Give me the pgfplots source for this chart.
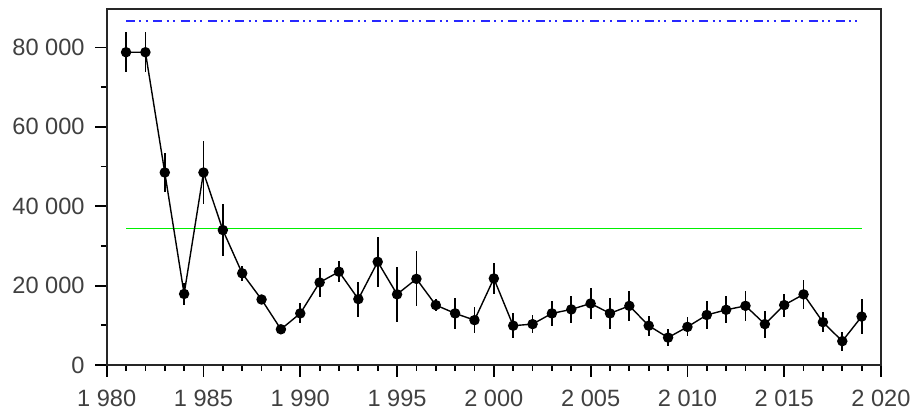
\documentclass[border=0pt]{standalone}
\usepackage{fontspec}
\setmainfont{Liberation Sans}
\usepackage{pgfplots}
\usepackage{pgfplotstable}
\pgfplotsset{compat=1.18}
\definecolor{refblue}{RGB}{40,40,255}
\definecolor{refgreen}{RGB}{0,240,0}
\pgfplotstableread{
year val err
1981 78800 5000
1982 78800 5000
1983 48500 5000
1984 17900 2800
1985 48500 8000
1986 34000 6500
1987 23100 1900
1988 16500 1000
1989 9000 800
1990 13000 2500
1991 20800 3700
1992 23500 2700
1993 16600 4400
1994 26000 6300
1995 17800 6900
1996 21700 6900
1997 15100 1500
1998 13000 3900
1999 11300 3200
2000 21800 3900
2001 9900 3200
2002 10300 2300
2003 13000 3100
2004 14000 3300
2005 15500 3900
2006 13000 3900
2007 14900 3800
2008 9900 2500
2009 6900 2200
2010 9600 2400
2011 12600 3500
2012 13900 3400
2013 14900 3700
2014 10300 3400
2015 15100 2900
2016 17800 3700
2017 10800 2600
2018 6000 2400
2019 12200 4500
}\datatable
\begin{document}
\begin{tikzpicture}
\useasboundingbox (-53.35pt,-25pt) rectangle (404.15pt,182.5pt);
\begin{axis}[
  scale only axis,
  width=387.15pt, height=178pt,
  xmin=1980, xmax=2020, ymin=0, ymax=89700,
  xtick={1980,1985,...,2020},
  ytick={0,20000,40000,60000,80000},
  minor x tick num=4,
  minor y tick num=1,
  tick pos=left,
  tick align=outside,
  major tick length=5.8pt,
  minor tick length=2.9pt,
  major tick style={draw=black, line width=0.9pt},
  minor tick style={draw=black, line width=0.9pt},
  axis line style={line width=1pt, black!85},
  scaled ticks=false,
  /pgf/number format/.cd, 1000 sep={\ }, assume math mode=true,
  /pgfplots/.cd,
  tick label style={font=\fontsize{11.8}{13}\selectfont, text=black!75, inner sep=0pt},
  xticklabel style={anchor=north, yshift=-6.35pt},
  yticklabel style={anchor=east, xshift=-5.05pt},
  clip=false,
]
\addplot[draw=refblue, line width=0.85pt, dash pattern=on 4.5pt off 2.15pt on 1pt off 2.15pt on 1pt off 2.85pt] coordinates {(1981,86600) (2019,86600)};
\addplot[draw=refgreen, line width=0.8pt] coordinates {(1981,34400) (2019,34400)};
\addplot[black, line width=0.7pt, mark=*, mark size=2.25pt,
  error bars/.cd, y dir=both, y explicit, error mark=none,
  error bar style={line width=0.9pt, black}]
  table[x=year, y=val, y error=err] {\datatable};
\end{axis}
\end{tikzpicture}
\end{document}
